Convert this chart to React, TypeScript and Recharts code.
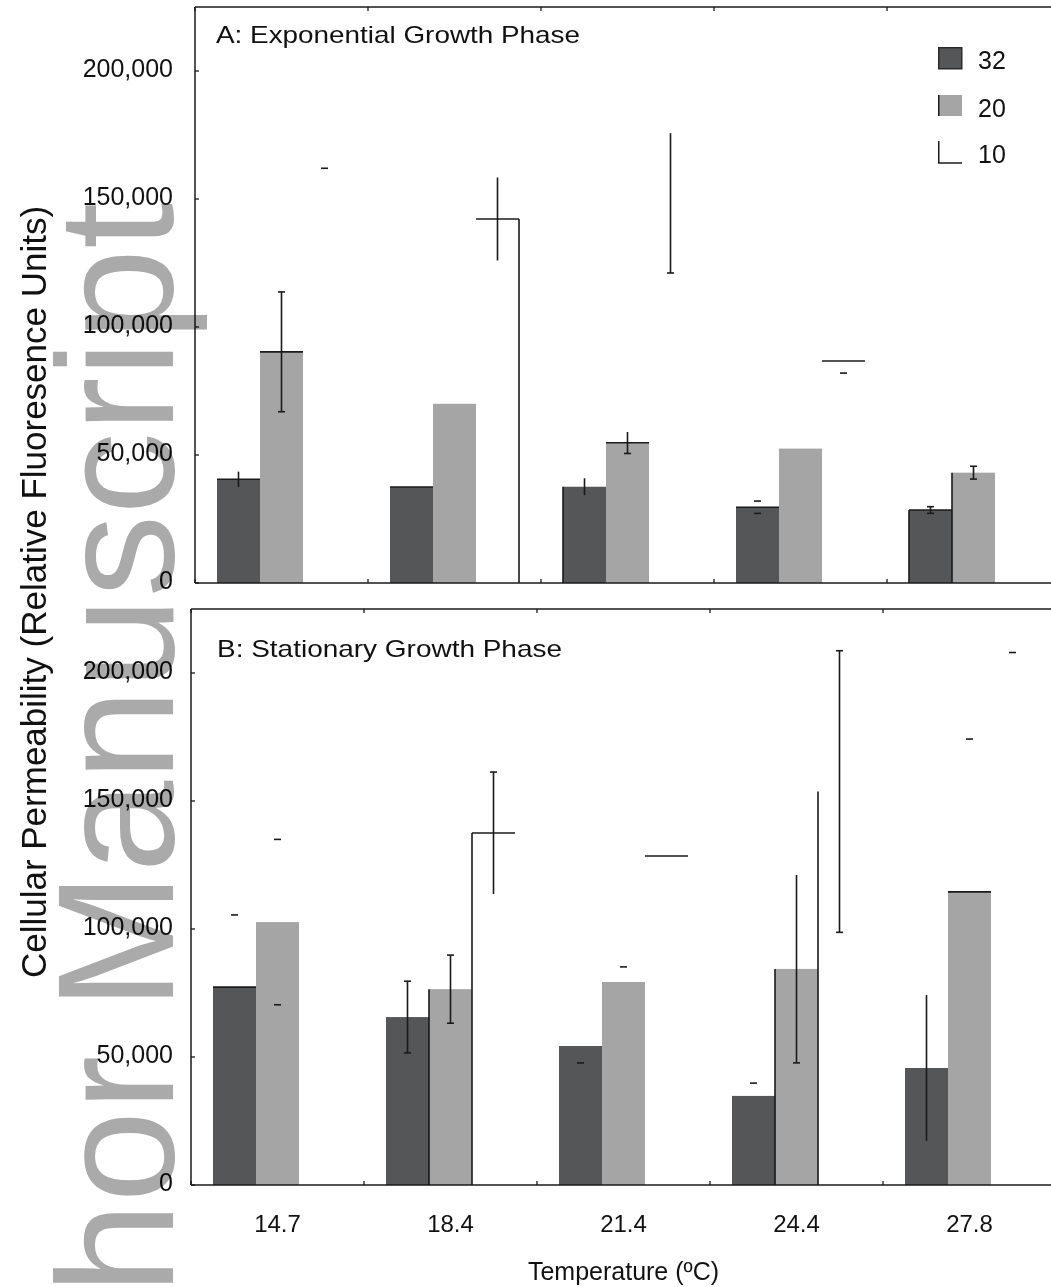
import React from 'react';
import { Bar, BarChart, Legend, XAxis, YAxis } from 'recharts';

const temps = ['14.7', '18.4', '21.4', '24.4', '27.8'];
const yTicks = [0, 50000, 100000, 150000, 200000];
const seriesNames = ['32', '20', '10'];

// A: exponential growth phase
const expMean32 = [40500, 37500, 37600, 29600, 28500];
const expErr32 = [3000, 2500, 3300, 2400, 1300];
const expMean20 = [90300, 70000, 54800, 52500, 43100];
const expErr20 = [23400, 5000, 4200, 4000, 2500];
const expMean10 = [138000, 142200, 148400, 86700, 95000];
const expErr10 = [24000, 16200, 27300, 4700, 10000];

// B: stationary growth phase
const statMean32 = [77300, 65600, 54300, 34800, 45700];
const statErr32 = [28200, 14000, 6600, 5000, 28500];
const statMean20 = [102700, 76500, 79300, 84400, 114500];
const statErr20 = [32300, 13300, 5900, 36700, 59700];
const statMean10 = [120000, 137500, 128500, 153700, 160000];
const statErr10 = [15000, 23800, 20000, 55000, 48000];

// bits of each bar that survived in the printed figure
// T top edge, L left edge, R right edge, E error stem, U upper cap, D lower cap
const expMarks = {
  m32: ['TE', 'T', 'LE', 'TUD', 'TLEUD'],
  m20: ['TEUD', '', 'TED', '', 'LEUD'],
  m10: ['U', 'TRE', 'ED', 'TD', ''],
};
const statMarks = {
  m32: ['TU', 'EUD', 'D', 'U', 'E'],
  m20: ['UD', 'LEUD', 'U', 'LED', 'TU'],
  m10: ['', 'TLEU', 'T', 'LEUD', 'U'],
};

const DARK = '#555658';
const LIGHT = '#a5a5a5';
const INK = '#1a1a1a';
const PLOT_W = 865;
const HALF_BAND = PLOT_W / temps.length / 2;

function buildRows(m32: number[], e32: number[], m20: number[], e20: number[], m10: number[], e10: number[]) {
  return temps.map((temp, i) => ({
    temp,
    m32: m32[i], e32: e32[i],
    m20: m20[i], e20: e20[i],
    m10: m10[i], e10: e10[i],
  }));
}

const expRows = buildRows(expMean32, expErr32, expMean20, expErr20, expMean10, expErr10);
const statRows = buildRows(statMean32, statErr32, statMean20, statErr20, statMean10, statErr10);

function barShape(key: 'm32' | 'm20' | 'm10', marks: string[]) {
  return (props: any) => {
    const { x, y, width, height, payload, fill } = props;
    const idx = temps.indexOf(payload.temp);
    const m = marks[idx] || '';
    const mean = payload[key];
    const err = payload['e' + key.slice(1)];
    const k = mean ? height / mean : 0;
    const cx = x + width / 2;
    const hi = y - err * k;
    const lo = y + err * k;
    const sw = 1.6;
    return (
      <g>
        <rect x={x} y={y} width={width} height={height} fill={fill} />
        {m.includes('T') && <line x1={x} x2={x + width} y1={y} y2={y} stroke={INK} strokeWidth={sw} />}
        {m.includes('L') && <line x1={x} x2={x} y1={y} y2={y + height} stroke={INK} strokeWidth={sw} />}
        {m.includes('R') && <line x1={x + width} x2={x + width} y1={y} y2={y + height} stroke={INK} strokeWidth={sw} />}
        {m.includes('E') && <line x1={cx} x2={cx} y1={hi} y2={lo} stroke={INK} strokeWidth={sw} />}
        {m.includes('U') && <line x1={cx - 3.5} x2={cx + 3.5} y1={hi} y2={hi} stroke={INK} strokeWidth={sw} />}
        {m.includes('D') && <line x1={cx - 3.5} x2={cx + 3.5} y1={lo} y2={lo} stroke={INK} strokeWidth={sw} />}
      </g>
    );
  };
}

function YTick({ x, y, payload, gap }: any) {
  return (
    <g>
      <line x1={x} x2={x + 4} y1={y} y2={y} stroke={INK} strokeWidth={1.3} />
      <text x={x - gap} y={y + 6} textAnchor="end" fontSize={25} fill="#111">
        {payload.value.toLocaleString('en-US')}
      </text>
    </g>
  );
}

function BottomTick({ x, y, payload, showLabel }: any) {
  const bx = x - HALF_BAND;
  return (
    <g>
      <line x1={bx} x2={bx} y1={y} y2={y - 4} stroke={INK} strokeWidth={1.3} />
      {showLabel && (
        <text x={x} y={y + 47} textAnchor="middle" fontSize={24} fill="#111">
          {payload.value}
        </text>
      )}
    </g>
  );
}

function TopTick({ x, y }: any) {
  const bx = x - HALF_BAND;
  return <line x1={bx} x2={bx} y1={y} y2={y + 4} stroke={INK} strokeWidth={1.3} />;
}

function LegendBox({ payload }: any) {
  const items = payload || [];
  return (
    <svg width={90} height={125}>
      {items.map((it: any) => {
        const i = seriesNames.indexOf(String(it.value));
        const top = [0, 48, 94][i];
        return (
          <g key={it.value}>
            {i === 0 && <rect x={0.75} y={top + 0.75} width={23} height={21} fill={DARK} stroke="#2a2a2a" strokeWidth={1.5} />}
            {i === 1 && (
              <g>
                <rect x={0} y={top} width={24} height={21} fill={LIGHT} />
                <line x1={0.75} x2={0.75} y1={top} y2={top + 21} stroke={INK} strokeWidth={1.5} />
              </g>
            )}
            {i === 2 && <path d={`M0.75,${top} V${top + 22} H24`} fill="none" stroke={INK} strokeWidth={1.5} />}
            <text x={40} y={top + 22} fontSize={25} fill="#111">{it.value}</text>
          </g>
        );
      })}
    </svg>
  );
}

function Panel({ rows, marks, axisW, width, height, marginTop, bottomH, labels, legend }: any) {
  return (
    <BarChart
      width={width}
      height={height}
      data={rows}
      margin={{ top: marginTop, right: 10, bottom: 0, left: 0 }}
      barCategoryGap={22}
      barGap={0}
    >
      <XAxis
        dataKey="temp"
        height={bottomH}
        axisLine={{ stroke: INK, strokeWidth: 1.5 }}
        tickLine={false}
        tickSize={0}
        tickMargin={0}
        interval={0}
        tick={<BottomTick showLabel={labels} />}
        label={labels ? { value: 'Temperature (ºC)', position: 'insideBottom', offset: 7, fontSize: 25, fill: '#111' } : undefined}
      />
      <XAxis
        xAxisId="top"
        dataKey="temp"
        orientation="top"
        height={1}
        axisLine={{ stroke: INK, strokeWidth: 1.5 }}
        tickLine={false}
        tickSize={0}
        tickMargin={0}
        interval={0}
        tick={<TopTick />}
      />
      <YAxis
        width={axisW}
        domain={[0, 225000]}
        ticks={yTicks}
        interval={0}
        axisLine={{ stroke: INK, strokeWidth: 1.5 }}
        tickLine={false}
        tickSize={0}
        tickMargin={0}
        tick={<YTick gap={axisW - 173} />}
      />
      {legend && (
        <Legend
          layout="vertical"
          align="center"
          verticalAlign="middle"
          content={<LegendBox />}
          wrapperStyle={{ position: 'absolute', left: 938, top: 47, width: 90 }}
        />
      )}
      <Bar dataKey="m32" name={seriesNames[0]} fill={DARK} isAnimationActive={false} shape={barShape('m32', marks.m32)} />
      <Bar dataKey="m20" name={seriesNames[1]} fill={LIGHT} isAnimationActive={false} shape={barShape('m20', marks.m20)} />
      <Bar dataKey="m10" name={seriesNames[2]} fill="#ffffff" isAnimationActive={false} shape={barShape('m10', marks.m10)} />
    </BarChart>
  );
}

export default function App() {
  return (
    <div
      style={{
        position: 'fixed',
        left: 0,
        top: 0,
        width: 1051,
        height: 1287,
        overflow: 'hidden',
        background: '#fff',
        fontFamily: '"Liberation Sans", Arial, sans-serif',
      }}
    >
      <div style={{ position: 'absolute', left: 0, top: 0 }}>
        <Panel rows={expRows} marks={expMarks} axisW={195} width={1070} height={600} marginTop={6} bottomH={17} labels={false} legend />
      </div>
      <div style={{ position: 'absolute', left: 0, top: 600 }}>
        <Panel rows={statRows} marks={statMarks} axisW={191} width={1066} height={687} marginTop={8} bottomH={102} labels legend={false} />
      </div>
      <svg width={1051} height={1287} style={{ position: 'absolute', left: 0, top: 0, pointerEvents: 'none' }}>
        <text x={216} y={43} fontSize={24} fill="#111" textLength={364} lengthAdjust="spacingAndGlyphs">
          A: Exponential Growth Phase
        </text>
        <text x={217} y={657} fontSize={24} fill="#111" textLength={345} lengthAdjust="spacingAndGlyphs">
          B: Stationary Growth Phase
        </text>
        <text transform="translate(46,592) rotate(-90)" textAnchor="middle" fontSize={35} fill="#111">
          Cellular Permeability (Relative Fluoresence Units)
        </text>
      </svg>
      <svg
        width={1051}
        height={1287}
        style={{ position: 'absolute', left: 0, top: 0, pointerEvents: 'none', mixBlendMode: 'multiply' }}
      >
        <text transform="translate(173,203) rotate(-90)" textAnchor="end" fontSize={165} fill="#aaaaaa">
          Author Manuscript
        </text>
      </svg>
    </div>
  );
}
